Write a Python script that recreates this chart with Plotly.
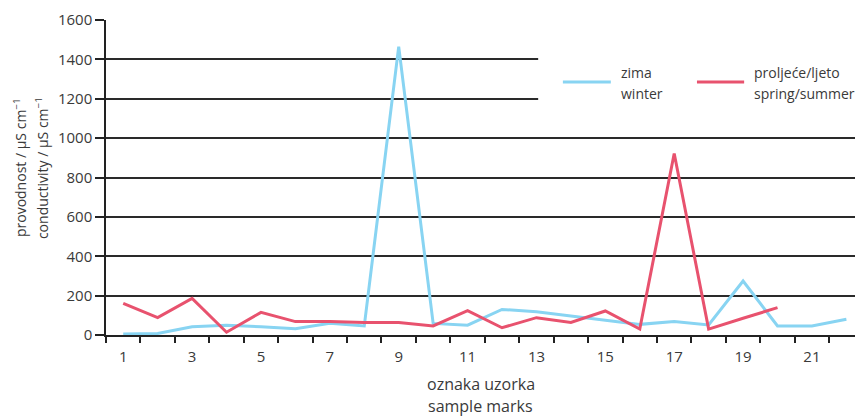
import plotly.graph_objects as go

samples = list(range(1, 23))
winter = [5, 8, 42, 50, 42, 32, 60, 46, 1465, 59, 50, 130, 118, 96, 76, 54, 68, 51, 274, 46, 46, 80]
spring_x = list(range(1, 21))
spring = [161, 88, 186, 14, 115, 68, 68, 64, 64, 46, 124, 37, 88, 64, 122, 30, 922, 30, 85, 139]
xtick_vals = [1, 3, 5, 7, 9, 11, 13, 15, 17, 19, 21]
ytick_vals = [0, 200, 400, 600, 800, 1000, 1200, 1400, 1600]

BLUE = "#88d4f2"
RED = "#e8526e"
TXT = "#3a3a3a"
FONT = "Open Sans"

fig = go.Figure()
fig.add_trace(go.Scatter(x=samples, y=winter, mode="lines",
                         line=dict(color=BLUE, width=3), name="zima winter"))
fig.add_trace(go.Scatter(x=spring_x, y=spring, mode="lines",
                         line=dict(color=RED, width=3), name="proljeće/ljeto spring/summer"))

fig.update_layout(
    width=858, height=416,
    margin=dict(l=106, r=3, t=20, b=81),
    paper_bgcolor="white", plot_bgcolor="white",
    showlegend=False,
    font=dict(family=FONT, size=15, color=TXT),
    xaxis=dict(range=[0.5, 22.25], tickmode="array", tickvals=xtick_vals,
               ticks="", showgrid=False, zeroline=False,
               showline=True, linecolor="#222", linewidth=1.5,
               ticklabelstandoff=7,
               minor=dict(tickmode="linear", tick0=0.5, dtick=1, ticks="outside",
                          ticklen=6, tickcolor="#222", tickwidth=1.5, showgrid=False)),
    yaxis=dict(range=[0, 1600], tickmode="array", tickvals=ytick_vals,
               ticks="outside", ticklen=9, tickcolor="#222", tickwidth=1.5,
               showgrid=True, gridcolor="#2a2a2a", gridwidth=1.5,
               zeroline=False, showline=True, linecolor="#222", linewidth=1.5,
               ticklabelstandoff=0),
)

# white legend box hiding gridlines
fig.add_shape(type="rect", xref="paper", yref="y", x0=0.577, x1=1.0, y0=1100, y1=1500,
              fillcolor="white", line=dict(width=0), layer="above")
# legend line samples
fig.add_shape(type="line", xref="paper", yref="y", x0=0.610, x1=0.674, y0=1285, y1=1285,
              line=dict(color=BLUE, width=3), layer="above")
fig.add_shape(type="line", xref="paper", yref="y", x0=0.789, x1=0.852, y0=1285, y1=1285,
              line=dict(color=RED, width=3), layer="above")
for x, t1, t2 in [(0.685, "zima", "winter"), (0.862, "proljeće/ljeto", "spring/summer")]:
    fig.add_annotation(xref="paper", yref="y", x=x, y=1331, text=t1,
                       showarrow=False, xanchor="left", yanchor="middle", align="left",
                       font=dict(size=14, color=TXT))
    fig.add_annotation(xref="paper", yref="y", x=x, y=1229, text=t2,
                       showarrow=False, xanchor="left", yanchor="middle", align="left",
                       font=dict(size=14, color=TXT))

# y axis title (two lines)
fig.add_annotation(xref="paper", yref="paper", x=-0.1148, y=0.53,
                   text="provodnost / µS cm<sup>−1</sup>",
                   textangle=-90, showarrow=False, xanchor="center", yanchor="middle",
                   font=dict(size=14, color=TXT))
fig.add_annotation(xref="paper", yref="paper", x=-0.0854, y=0.53,
                   text="conductivity / µS cm<sup>−1</sup>",
                   textangle=-90, showarrow=False, xanchor="center", yanchor="middle",
                   font=dict(size=14, color=TXT))
# x axis title (two lines)
fig.add_annotation(xref="paper", yref="paper", x=0.5, y=-0.157, text="oznaka uzorka",
                   showarrow=False, xanchor="center", yanchor="middle",
                   font=dict(size=16, color=TXT))
fig.add_annotation(xref="paper", yref="paper", x=0.5, y=-0.224, text="sample marks",
                   showarrow=False, xanchor="center", yanchor="middle",
                   font=dict(size=16, color=TXT))

fig.write_html("out.html", config={"displayModeBar": False},
               post_script="document.body.style.margin='0';document.body.style.padding='0';")
